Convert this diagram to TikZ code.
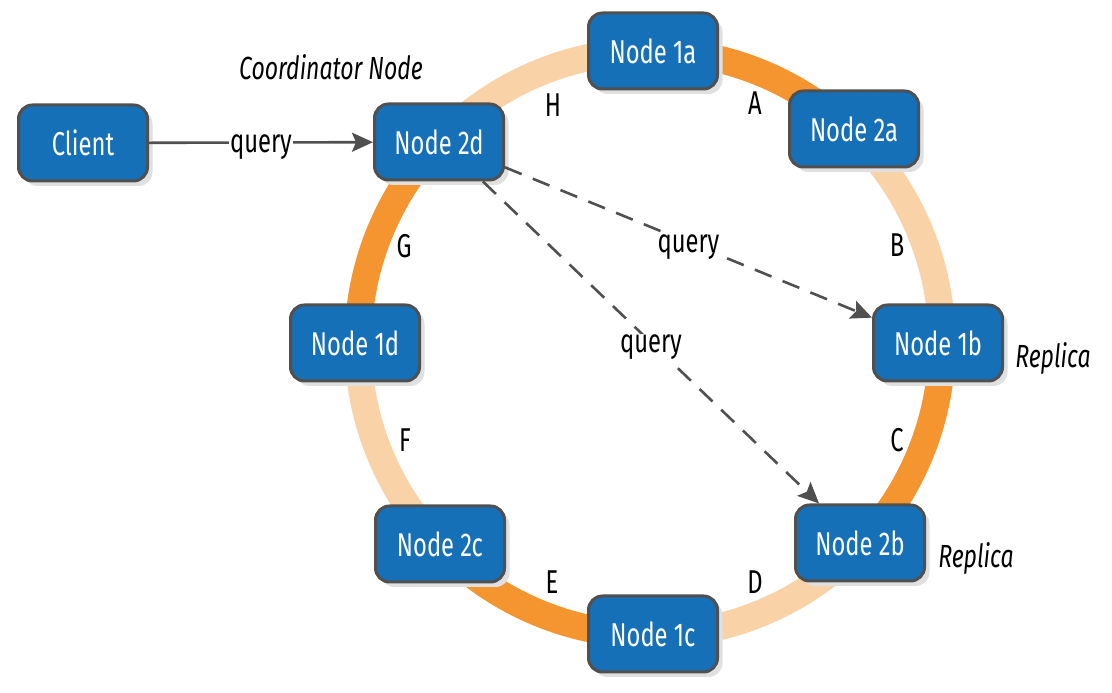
\documentclass[tikz,border=0pt]{standalone}
\usepackage{fontspec}
\setmainfont{Fira Sans}[FakeStretch=0.72]
\usetikzlibrary{arrows.meta,shadows}
\definecolor{nodeblue}{RGB}{22,112,183}
\definecolor{nodeborder}{RGB}{80,80,80}
\definecolor{ringdark}{RGB}{244,149,47}
\definecolor{ringlight}{RGB}{250,210,168}
\definecolor{arrowgray}{RGB}{80,80,80}
\begin{document}
\begin{tikzpicture}[x=1pt,y=1pt,
  box/.style={draw=nodeborder, line width=3pt, fill=nodeblue, rounded corners=14pt,
    minimum width=129pt, minimum height=76pt, text=white, inner sep=0pt,
    font=\fontsize{33}{36}\selectfont,
    drop shadow={shadow xshift=5pt, shadow yshift=-5pt, fill=black!12, opacity=1}},
  seglabel/.style={font=\fontsize{33}{36}\selectfont, text=black},
  itlabel/.style={font=\fontsize{32}{36}\selectfont\itshape, text=black},
  qlabel/.style={fill=white, inner sep=1pt, text=black, yshift=-5pt, font=\fontsize{33}{36}\selectfont},
  conn/.style={draw=arrowgray, line width=2.6pt, -{Stealth[length=21pt,width=19pt,inset=4pt]}},
  dconn/.style={conn, dash pattern=on 18pt off 12pt},
  ring/.style={line width=27pt}
]
\useasboundingbox (0,0) rectangle (1112,693);
% ring
\draw[ring, ringlight] (650,350) circle (292);
\draw[ring, ringdark] (650,350) ++(45:292) arc (45:90:292);
\draw[ring, ringdark] (650,350) ++(-45:292) arc (-45:0:292);
\draw[ring, ringdark] (650,350) ++(135:292) arc (135:180:292);
\draw[ring, ringdark] (650,350) ++(225:292) arc (225:270:292);
% nodes
\node[box] (client) at (83,550) {Client};
\node[box] (n2d) at (439,551) {Node 2d};
\node[box] (n1a) at (653,642) {Node 1a};
\node[box] (n2a) at (854,564) {Node 2a};
\node[box] (n1b) at (938,350) {Node 1b};
\node[box] (n2b) at (860,150) {Node 2b};
\node[box] (n1c) at (653,59) {Node 1c};
\node[box] (n1d) at (355,350) {Node 1d};
\node[box] (n2c) at (440,149) {Node 2c};
% segment labels
\node[seglabel] (la) at (755,590) {A};
\node[seglabel] (lb) at (897,448) {B};
\node[seglabel] (lc) at (897,253) {C};
\node[seglabel] (ld) at (755,111) {D};
\node[seglabel] (le) at (552,111) {E};
\node[seglabel] (lf) at (405,253) {F};
\node[seglabel] (lg) at (404,447) {G};
\node[seglabel] (lh) at (553,588) {H};
% italic labels
\node[itlabel] (coord) at (331,626) {Coordinator Node};
\node[itlabel] (rep1) at (1053,335) {Replica};
\node[itlabel] (rep2) at (976,135) {Replica};
% connectors
\draw[conn] (client) -- node[qlabel] {query} (n2d);
\draw[dconn] (n2d.-21.5) -- node[qlabel] {query} (n1b.159);
\draw[dconn] (n2d.-42) -- node[qlabel] {query} (n2b.136);
\end{tikzpicture}
\end{document}
